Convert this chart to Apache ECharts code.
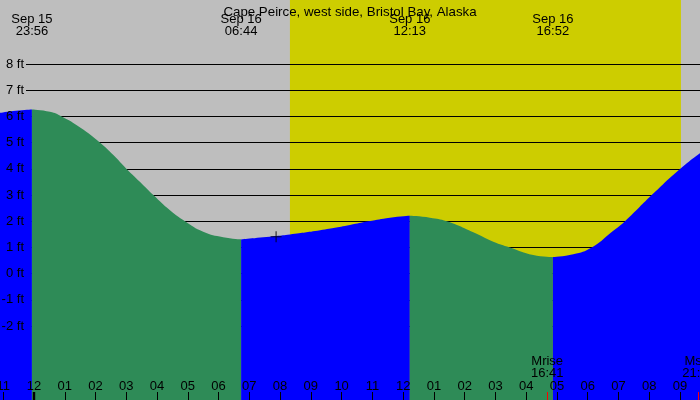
<!DOCTYPE html>
<html><head><meta charset="utf-8">
<script src="https://cdn.jsdelivr.net/npm/echarts@6/dist/echarts.min.js"></script>
<style>html,body{margin:0;padding:0;background:#BEBEBE;overflow:hidden}#c{width:700px;height:400px}</style>
</head><body><div id="c"></div>
<script>
const titleText = 'Cape Peirce, west side, Bristol Bay, Alaska';
// tide curve: hours after midnight Sep 16, height in ft
const tideHours = [-1.105, -0.585, -0.067,
  0.52, 0.90, 1.50, 2.15, 2.58, 3.01, 3.45, 3.88, 4.42, 4.91, 5.50, 6.15, 6.733,
  7.87, 8.32, 9.30, 10.27, 10.87, 11.57, 12.217,
  12.87, 13.42, 14.28, 14.93, 15.47, 16.23, 16.867,
  17.53, 18.13, 18.73, 19.21, 20.08, 21.0, 21.65];
const tideFeet = [6.14, 6.22, 6.27,
  6.18, 6.0, 5.58, 5.0, 4.53, 4.0, 3.50, 3.0, 2.42, 2.0, 1.60, 1.39, 1.31,
  1.44, 1.50, 1.66, 1.86, 2.0, 2.14, 2.21,
  2.14, 2.0, 1.58, 1.22, 1.0, 0.71, 0.63,
  0.74, 1.0, 1.54, 2.0, 3.0, 4.0, 4.60];
const eventHours = [-0.067, 6.733, 12.217, 16.867];
const eventLabels = ['Sep 15\n23:56', 'Sep 16\n06:44', 'Sep 16\n12:13', 'Sep 16\n16:52'];
const hourTicks = [-1,0,1,2,3,4,5,6,7,8,9,10,11,12,13,14,15,16,17,18,19,20,21];
const hourLabels = ['11','12','01','02','03','04','05','06','07','08','09','10','11','12','01','02','03','04','05','06','07','08','09'];
const feetTicks = [-2,-1,0,1,2,3,4,5,6,7,8];
const dayHours = [8.32, 21.03];
const midnightHours = [0];
const moonHours = [16.683, 21.6];
const moonLabels = ['Mrise\n16:41', 'Mset\n21:36'];
const nowHour = [7.87];
const nowFeet = [1.41];

const X_MIN = -1.105, X_MAX = 21.65, Y_MIN = -4.821, Y_MAX = 10.447;
const FONT = 'Liberation Sans';

// split curve into rising/falling segments at the extremes
const segments = [];
let cur = [];
for (let i = 0; i < tideHours.length; i++) {
  cur.push([tideHours[i], tideFeet[i]]);
  if (eventHours.indexOf(tideHours[i]) >= 0 && cur.length > 1) {
    segments.push(cur);
    cur = [[tideHours[i], tideFeet[i]]];
  }
}
if (cur.length > 1) segments.push(cur);

const tideSeries = segments.map(seg => {
  const rising = seg[seg.length - 1][1] > seg[0][1];
  const col = rising ? '#0000FF' : '#2E8B57';
  return {
    type: 'line', xAxisIndex: 0, yAxisIndex: 0, data: seg,
    smooth: 0.5, showSymbol: false, z: 3,
    lineStyle: { width: 0, color: col },
    areaStyle: { color: col, opacity: 1, origin: 'start' },
    silent: true
  };
});

function xa(extra) {
  return Object.assign({
    type: 'value', gridIndex: 0, min: X_MIN, max: X_MAX,
    axisLine: { show: false, onZero: false }, splitLine: { show: false },
    axisTick: { show: false }, axisLabel: { show: false }, z: 10
  }, extra);
}

const option = {
  animation: false,
  backgroundColor: '#BEBEBE',
  title: {
    text: titleText, left: 'center', top: 1,
    textStyle: { fontFamily: FONT, fontSize: 13.3, fontWeight: 'normal', color: '#000', lineHeight: 12 }
  },
  grid: [
    { left: 0, right: 0, top: 0, bottom: 0, containLabel: false, outerBoundsMode: 'none' },
    { left: 26, right: 0, top: 0, bottom: 0, containLabel: false, outerBoundsMode: 'none' }
  ],
  xAxis: [
    xa({
      position: 'bottom',
      axisTick: { show: true, inside: true, length: 8, customValues: hourTicks, lineStyle: { color: '#000', width: 1 } },
      axisLabel: { show: true, inside: true, margin: 8, customValues: hourTicks,
        fontFamily: FONT, fontSize: 13, color: '#000', lineHeight: 12,
        formatter: v => hourLabels[hourTicks.indexOf(v)] }
    }),
    xa({
      position: 'bottom',
      axisTick: { show: true, inside: true, length: 8, customValues: midnightHours, lineStyle: { color: '#000', width: 2.4 } }
    }),
    xa({
      position: 'bottom',
      axisTick: { show: true, inside: true, length: 8, customValues: moonHours, lineStyle: { color: '#FF0000', width: 1 } },
      axisLabel: { show: true, inside: true, margin: 21, customValues: moonHours,
        fontFamily: FONT, fontSize: 13, color: '#000', lineHeight: 12,
        formatter: v => moonLabels[moonHours.indexOf(v)] }
    }),
    xa({
      position: 'top',
      axisLabel: { show: true, inside: true, margin: 13, customValues: eventHours,
        fontFamily: FONT, fontSize: 13, color: '#000', lineHeight: 12,
        formatter: v => eventLabels[eventHours.indexOf(v)] }
    }),
    { type: 'value', gridIndex: 1, min: X_MIN, max: X_MAX, show: false }
  ],
  yAxis: [
    {
      type: 'value', gridIndex: 0, min: Y_MIN, max: Y_MAX, z: 10, position: 'left',
      axisLine: { show: false, onZero: false }, splitLine: { show: false },
      axisTick: { show: false, customValues: feetTicks },
      axisLabel: { show: true, inside: true, align: 'right', margin: 24, customValues: feetTicks,
        fontFamily: FONT, fontSize: 13, color: '#000',
        formatter: v => v + ' ft' }
    },
    {
      type: 'value', gridIndex: 1, min: Y_MIN, max: Y_MAX, z: 2, position: 'left',
      axisLine: { show: false, onZero: false },
      axisTick: { show: false, customValues: feetTicks },
      axisLabel: { show: false, customValues: feetTicks },
      splitLine: { show: true, lineStyle: { color: '#000', width: 1 } }
    }
  ],
  series: [
    {
      type: 'line', xAxisIndex: 0, yAxisIndex: 0, data: [], z: 1, silent: true,
      markArea: {
        silent: true, z: 1,
        itemStyle: { color: '#CDCD00', opacity: 1 },
        data: [[{ xAxis: dayHours[0] }, { xAxis: dayHours[1] }]]
      }
    },
    ...tideSeries,
    {
      type: 'scatter', xAxisIndex: 0, yAxisIndex: 0, z: 6, silent: true,
      data: nowHour.map((h, i) => [h, nowFeet[i]]),
      symbol: 'path://M4.5,0h1v10h-1z M0,4.5h10v1h-10z',
      symbolSize: 11, itemStyle: { color: '#000' }
    }
  ]
};
const chart = echarts.init(document.getElementById('c'), null, { renderer: 'canvas' });
chart.setOption(option);
</script>
</body></html>
